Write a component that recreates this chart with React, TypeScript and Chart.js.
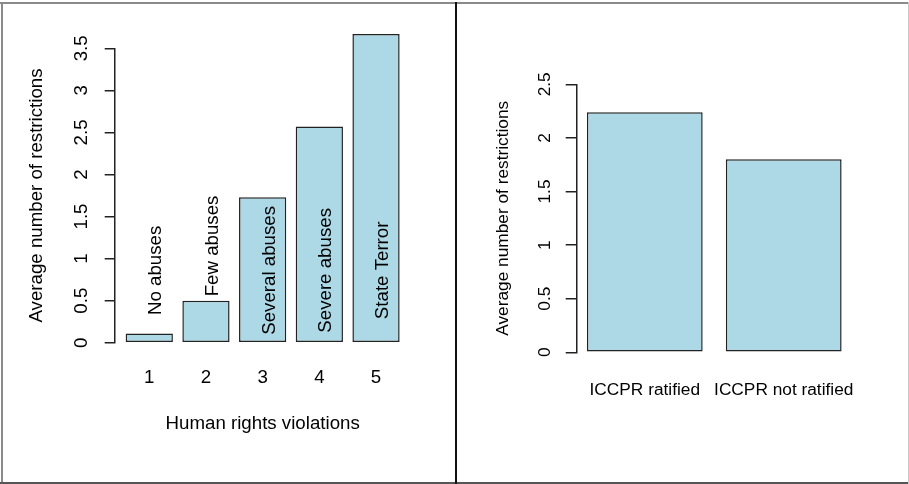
import React, { useEffect, useRef } from "react";
import { Chart, registerables } from "chart.js";

Chart.register(...registerables);

// ---- data ----
const violationCategories = ["1", "2", "3", "4", "5"];
const violationNames = ["No abuses", "Few abuses", "Several abuses", "Severe abuses", "State Terror"];
const violationValues = [0.11, 0.5, 1.73, 2.57, 3.67];
const violationNameLevels = [0.86, 1.15, 0.86, 0.86, 0.86];
const violationYTicks = [0, 0.5, 1, 1.5, 2, 2.5, 3, 3.5];

const iccprCategories = ["ICCPR ratified", "ICCPR not ratified"];
const iccprValues = [2.24, 1.8];
const iccprYTicks = [0, 0.5, 1, 1.5, 2, 2.5];

const yTitleText = "Average number of restrictions";
const leftXTitleText = "Human rights violations";

// ---- styles ----
const FAMILY = "'Liberation Sans', Arial, Helvetica, sans-serif";
const BAR_FILL = "#ADD8E6";
const LINE = "#222222";
const TEXT = "#000000";

type PanelOpts = {
  categories: string[];
  values: number[];
  yTicks: number[];
  yMax: number;
  xMin: number;
  xMax: number;
  fontSize: number;
  padTop: number;
  padRight: number;
  yWidth: number;
  xHeight: number;
  tickLen: number;
  yTickPad: number;
  yTitlePad: number;
  xTickPad: number;
  xTitle?: string;
  xTitlePad?: number;
  plugins?: any[];
};

function makeConfig(o: PanelOpts): any {
  const font = { family: FAMILY, size: o.fontSize, lineHeight: 1.2 };
  return {
    type: "bar",
    data: {
      datasets: [
        {
          data: o.values.map((v, i) => ({ x: i + 1, y: v })),
          backgroundColor: BAR_FILL,
          borderColor: LINE,
          borderWidth: 1.5,
          borderSkipped: false,
          categoryPercentage: 1,
          barPercentage: 1 / 1.2,
          clip: false,
        },
      ],
    },
    options: {
      responsive: false,
      animation: false,
      events: [],
      layout: { padding: { left: 0, top: o.padTop, right: o.padRight, bottom: 0 } },
      plugins: {
        legend: { display: false },
        tooltip: { enabled: false },
        title: { display: false },
      },
      scales: {
        x: {
          type: "linear",
          min: o.xMin,
          max: o.xMax,
          offset: false,
          grid: { display: false, drawTicks: false, offset: false },
          border: { display: false },
          afterBuildTicks: (s: any) => {
            s.ticks = o.categories.map((_, i) => ({ value: i + 1 }));
          },
          ticks: {
            autoSkip: false,
            minRotation: 0,
            maxRotation: 0,
            padding: o.xTickPad,
            color: TEXT,
            font,
            callback: (v: number) => o.categories[Math.round(v) - 1] ?? "",
          },
          title: o.xTitle
            ? {
                display: true,
                text: o.xTitle,
                color: TEXT,
                font,
                padding: { top: 0, bottom: o.xTitlePad ?? 0 },
              }
            : { display: false },
          afterFit: (s: any) => {
            s.height = o.xHeight;
          },
        },
        y: {
          type: "linear",
          min: 0,
          max: o.yMax,
          afterBuildTicks: (s: any) => {
            s.ticks = o.yTicks.map((v) => ({ value: v }));
          },
          grid: {
            display: true,
            drawOnChartArea: false,
            drawTicks: true,
            tickLength: o.tickLen,
            color: LINE,
            lineWidth: 1.5,
          },
          border: { display: true, color: LINE, width: 1.5 },
          ticks: {
            autoSkip: false,
            minRotation: 90,
            maxRotation: 90,
            crossAlign: "center",
            padding: o.yTickPad,
            color: TEXT,
            font,
            callback: (v: number) => String(v),
          },
          title: {
            display: true,
            text: yTitleText,
            color: TEXT,
            font,
            padding: { top: o.yTitlePad, bottom: 0 },
          },
          afterFit: (s: any) => {
            s.width = o.yWidth;
          },
        },
      },
    },
    plugins: o.plugins ?? [],
  };
}

const LEFT_FONT = 18.7;

const barNamesPlugin = {
  id: "barNames",
  afterDatasetsDraw(chart: any) {
    const { ctx } = chart;
    const xs = chart.scales.x;
    const ys = chart.scales.y;
    ctx.save();
    ctx.font = `${LEFT_FONT}px ${FAMILY}`;
    ctx.fillStyle = TEXT;
    ctx.textAlign = "center";
    ctx.textBaseline = "middle";
    violationNames.forEach((name, i) => {
      const px = xs.getPixelForValue(i + 1) + 7;
      const py = ys.getPixelForValue(violationNameLevels[i]);
      ctx.save();
      ctx.translate(px, py);
      ctx.rotate(-Math.PI / 2);
      ctx.fillText(name, 0, 0);
      ctx.restore();
    });
    ctx.restore();
  },
};

export default function App() {
  const leftRef = useRef<HTMLCanvasElement | null>(null);
  const rightRef = useRef<HTMLCanvasElement | null>(null);

  useEffect(() => {
    const left = new Chart(
      leftRef.current as HTMLCanvasElement,
      makeConfig({
        categories: violationCategories,
        values: violationValues,
        yTicks: violationYTicks,
        yMax: 3.5,
        xMin: 0.39,
        xMax: 5.61,
        fontSize: LEFT_FONT,
        padTop: 48.3,
        padRight: 44.4,
        yWidth: 114.7,
        xHeight: 141.3,
        tickLen: 10,
        yTickPad: 9.7,
        yTitlePad: 25.5,
        xTickPad: 23.6,
        xTitle: leftXTitleText,
        xTitlePad: 49.3,
        plugins: [barNamesPlugin],
      })
    );
    const right = new Chart(
      rightRef.current as HTMLCanvasElement,
      makeConfig({
        categories: iccprCategories,
        values: iccprValues,
        yTicks: iccprYTicks,
        yMax: 2.5,
        xMin: 0.51,
        xMax: 2.49,
        fontSize: 17.3,
        padTop: 84.3,
        padRight: 57.2,
        yWidth: 119.7,
        xHeight: 131.7,
        tickLen: 11,
        yTickPad: 8.7,
        yTitlePad: 35.9,
        xTickPad: 27.4,
      })
    );
    return () => {
      left.destroy();
      right.destroy();
    };
  }, []);

  const line = (style: React.CSSProperties): React.CSSProperties => ({
    position: "absolute",
    zIndex: 2,
    ...style,
  });

  return (
    <div
      style={{
        position: "fixed",
        left: 0,
        top: 0,
        width: 909,
        height: 484,
        background: "#ffffff",
        overflow: "hidden",
      }}
    >
      <canvas
        ref={leftRef}
        width={455}
        height={484}
        style={{ position: "absolute", left: 0, top: 0, width: 455, height: 484, display: "block" }}
      />
      <canvas
        ref={rightRef}
        width={452}
        height={484}
        style={{ position: "absolute", left: 457, top: 0, width: 452, height: 484, display: "block" }}
      />
      <div style={line({ left: 0, top: 2, width: 909, height: 2, background: "#8a8a8a" })} />
      <div style={line({ left: 1, top: 2, width: 2, height: 482, background: "#8a8a8a" })} />
      <div style={line({ left: 0, top: 482, width: 909, height: 2, background: "#555555" })} />
      <div style={line({ left: 908, top: 2, width: 1, height: 482, background: "#c8c8c8" })} />
      <div style={line({ left: 454.5, top: 2, width: 2, height: 482, background: "#111111" })} />
    </div>
  );
}
